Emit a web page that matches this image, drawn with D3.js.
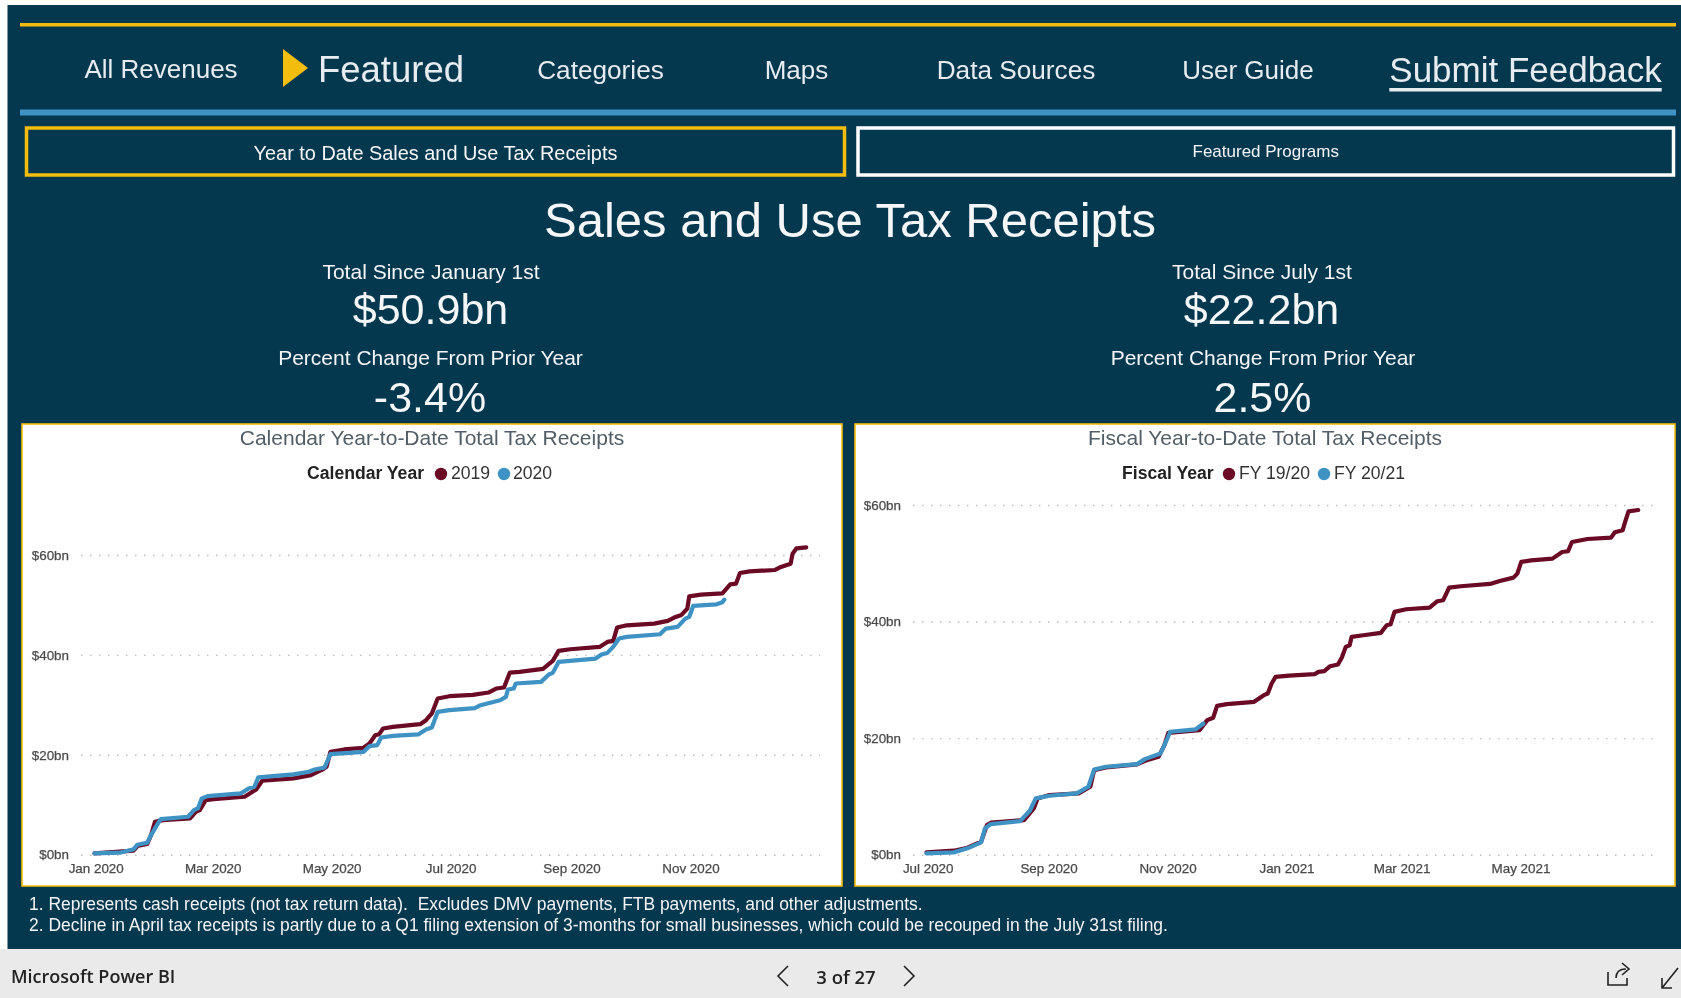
<!DOCTYPE html>
<html>
<head>
<meta charset="utf-8">
<script src="https://cdn.jsdelivr.net/npm/d3@7"></script>
<style>
  body { margin: 0; background: #fff; overflow: hidden; }
  svg { display: block; font-family: "Liberation Sans", Arial, sans-serif; filter: blur(0.35px); }
  .nav { fill: #e6ecef; text-anchor: middle; dominant-baseline: central; }
  .tick text { font-size: 13.4px; fill: #4a4a4a; font-weight: 400; stroke: #4a4a4a; stroke-width: .25px; }
</style>
</head>
<body>
<script>
// Global variables
const width = 1681;
const height = 998;
const navy = "#04384f";
const gold = "#f2bd0c";
const wine = "#6b0a25";
const blue = "#3f93c4";

// calendar chart, days since Jan 1st and $bn
const days2019 = [0,20,22,27,29,31,35,49,52,54,57,61,77,81,83,86,102,111,117,119,121,128,138,141,144,146,148,153,167,170,173,176,182,194,202,206,210,213,218,230,235,238,244,259,263,266,268,273,287,294,298,301,304,305,311,322,326,329,331,336,349,352,357,358,360,365];
const values2019 = [0.27,0.8,1.73,2.13,3.93,6.6,6.93,7.27,8.6,8.93,10.93,11.13,11.6,12.6,13.07,14.8,15.27,15.93,17.07,17.6,20.6,21.07,21.4,22.27,23.93,24.13,25.27,25.6,26.13,26.93,28.27,31.27,31.73,32,32.47,33.27,33.47,36.47,36.6,37.2,38.8,40.8,41.13,41.6,42.6,42.8,45.47,45.93,46.27,46.8,47.6,48,49.27,51.73,52.07,52.33,54.13,54.27,56.4,56.73,57,57.6,58.27,60.27,61.33,61.53];
const days2020 = [0,13,17,20,22,27,29,32,34,48,51,53,55,58,75,79,82,84,102,110,113,118,121,138,141,145,147,153,166,170,173,176,182,195,198,208,211,212,215,216,229,233,235,238,257,260,263,266,269,273,290,293,299,303,305,307,319,322,323];
const values2020 = [0.27,0.4,0.8,1.07,2,2.4,3.93,5.93,7.13,7.6,8.93,9.27,11.27,11.73,12.27,13.27,13.6,15.47,16.07,16.6,17.07,17.47,20.13,20.6,21.73,21.93,23.47,23.8,24.07,25.07,25.47,28.6,28.93,29.33,29.93,30.93,31.6,33.07,33.27,34.27,34.6,36.07,36.4,38.6,39.27,40.07,40.4,41.6,43.27,43.6,44.13,45.27,45.6,47.27,47.6,49.8,50.13,50.53,51.07];

// fiscal chart, days since Jul 1st and $bn
const daysFY1920 = [0,14,21,28,31,33,50,55,57,63,78,84,86,92,108,113,119,122,124,140,144,147,149,154,168,173,175,177,179,186,199,201,204,207,211,213,215,217,218,224,233,236,238,240,246,258,262,265,268,274,289,294,301,303,305,310,321,326,329,331,339,351,353,357,358,360,365];
const valuesFY1920 = [0.4,0.69,1.2,2.23,5.09,5.49,5.94,7.94,9.66,10.23,10.51,11.66,14.51,14.97,15.49,16.23,16.8,18.8,20.91,21.37,23.09,23.49,25.54,25.83,26.23,27.37,27.66,29.37,30.51,30.74,30.97,31.37,31.49,32.34,32.63,33.83,35.66,35.94,37.37,37.66,38.06,39.37,39.54,41.66,42.11,42.4,43.49,43.66,45.83,46.06,46.46,46.97,47.54,48.23,50.23,50.51,50.8,51.94,52.06,53.66,54.17,54.4,55.31,55.66,56.8,58.91,59.14];
const daysFY2021 = [0,14,21,28,30,33,48,53,56,63,77,83,86,92,108,112,120,122,125,138,142];
const valuesFY2021 = [0.23,0.4,1.09,2.11,4.51,5.26,5.77,7.54,9.66,10.11,10.51,11.66,14.63,15.09,15.54,16.4,17.37,18.8,21.09,21.49,22.51];

const yTicks = [0, 20, 40, 60];
const calendarTicks = ["2020-01-01","2020-03-01","2020-05-01","2020-07-01","2020-09-01","2020-11-01"];
const fiscalTicks = ["2020-07-01","2020-09-01","2020-11-01","2021-01-01","2021-03-01","2021-05-01"];

// top navigation
const navLabels = ["All Revenues","Featured","Categories","Maps","Data Sources","User Guide","Submit Feedback"];
const navCenters = [161,391,600.5,796.5,1016,1248,1525.5];
const navSizes = [26,36.5,26.2,26,26.2,26,35];

const footnotes = [
  "1. Represents cash receipts (not tax return data).  Excludes DMV payments, FTB payments, and other adjustments.",
  "2. Decline in April tax receipts is partly due to a Q1 filing extension of 3-months for small businesses, which could be recouped in the July 31st filing."
];

const parseDay = d3.utcParse("%Y-%m-%d");

const svg = d3.select("body").append("svg")
  .attr("width", width)
  .attr("height", height);

svg.append("rect").attr("x", 7.5).attr("y", 5).attr("width", width).attr("height", 944).attr("fill", navy);
svg.append("rect").attr("x", 0).attr("y", 949).attr("width", width).attr("height", 49).attr("fill", "#eaeaea");

// rules on top of the page
svg.append("rect").attr("x", 20).attr("y", 23).attr("width", 1656).attr("height", 3.5).attr("fill", gold);
svg.append("rect").attr("x", 20).attr("y", 109.5).attr("width", 1656).attr("height", 6).attr("fill", blue);

svg.selectAll("text.nav")
  .data(navLabels)
  .enter().append("text")
    .attr("class", "nav")
    .attr("x", (d, i) => navCenters[i])
    .attr("y", (d, i) => i == 0 ? 68.5 : 69.5)
    .attr("font-size", (d, i) => navSizes[i])
    .attr("fill", "#fff")
    .attr("text-decoration", d => d == "Submit Feedback" ? "underline" : null)
    .text(d => d);

svg.append("path")
  .attr("d", "M283,49 L308,68 L283,87 Z")
  .attr("fill", gold);

// page buttons
addButton(26.5, 128, 818, 47, gold, "Year to Date Sales and Use Tax Receipts", 19.9, 153);
addButton(858, 128, 815.5, 47, "#fff", "Featured Programs", 17, 151.5);

addCentered(850, 220, 49, "Sales and Use Tax Receipts");

addCentered(431, 271, 21, "Total Since January 1st");
addCentered(430.5, 309, 43, "$50.9bn");
addCentered(430.5, 357, 21, "Percent Change From Prior Year");
addCentered(430, 397, 43, "-3.4%");
addCentered(1262, 271, 21, "Total Since July 1st");
addCentered(1261.5, 309, 43, "$22.2bn");
addCentered(1263, 357, 21, "Percent Change From Prior Year");
addCentered(1262.5, 397, 43, "2.5%");

drawChart({
  left: 22, right: 842,
  title: "Calendar Year-to-Date Total Tax Receipts",
  titleX: 432,
  legendTitle: "Calendar Year",
  legendTitleX: 307,
  names: ["2019", "2020"],
  dotX: [441, 504],
  nameX: [451, 513],
  start: "2020-01-01",
  xRange: [94.5, 94.5 + 365 * 1.95],
  ticks: calendarTicks,
  yTop: 555,
  gridRange: [81, 820],
  series: [
    { days: days2019, values: values2019, color: wine },
    { days: days2020, values: values2020, color: blue }
  ]
});

drawChart({
  left: 855, right: 1675,
  title: "Fiscal Year-to-Date Total Tax Receipts",
  titleX: 1265,
  legendTitle: "Fiscal Year",
  legendTitleX: 1122,
  names: ["FY 19/20", "FY 20/21"],
  dotX: [1229, 1324],
  nameX: [1239, 1334],
  start: "2020-07-01",
  xRange: [926.5, 926.5 + 365 * 1.95],
  ticks: fiscalTicks,
  yTop: 505,
  gridRange: [913, 1653],
  series: [
    { days: daysFY1920, values: valuesFY1920, color: wine },
    { days: daysFY2021, values: valuesFY2021, color: blue }
  ]
});

// footnotes
svg.selectAll("text.footnote")
  .data(footnotes)
  .enter().append("text")
    .attr("class", "footnote")
    .attr("x", 29)
    .attr("y", (d, i) => 904 + i * 20.5)
    .attr("font-size", 17.45)
    .attr("fill", "#f2f4f5")
    .attr("dominant-baseline", "central")
    .style("white-space", "pre")
    .text(d => d);

// Power BI bar
svg.append("text").attr("x", 11).attr("y", 976)
  .attr("font-family", "'Open Sans'").attr("font-size", 18).attr("font-weight", 600)
  .attr("fill", "#222").attr("dominant-baseline", "central")
  .text("Microsoft Power BI");
svg.append("text").attr("x", 846).attr("y", 976)
  .attr("font-family", "'Open Sans'").attr("font-size", 18.5).attr("font-weight", 600)
  .attr("fill", "#222").attr("text-anchor", "middle").attr("dominant-baseline", "central")
  .text("3 of 27");

const barIcons = [
  "M788,966 L778,976 L788,986",
  "M904,966 L914,976 L904,986",
  "M1608,972 L1608,985 L1627,985 L1627,978 M1616,978 C1616,972 1620,969 1626,969 M1622,963 L1629,969 L1622,975",
  "M1662,988 L1678,968 M1662,978 L1662,988 L1672,988"
];
svg.selectAll("path.icon")
  .data(barIcons)
  .enter().append("path")
    .attr("class", "icon")
    .attr("d", d => d)
    .attr("fill", "none")
    .attr("stroke", "#222")
    .attr("stroke-width", 1.6);

function addCentered(x, y, size, label) {
  svg.append("text")
    .attr("x", x).attr("y", y)
    .attr("font-size", size)
    .attr("fill", "#f4f6f7")
    .attr("text-anchor", "middle")
    .attr("dominant-baseline", "central")
    .text(label);
}

function addButton(x, y, w, h, color, label, size, textY) {
  svg.append("rect")
    .attr("x", x).attr("y", y)
    .attr("width", w).attr("height", h)
    .attr("fill", "none")
    .attr("stroke", color)
    .attr("stroke-width", 3.5);
  addCentered(x + w / 2, textY, size, label);
}

function drawChart(c) {
  const panelTop = 424;
  const panelBottom = 886;
  const yZero = 854.7;

  svg.append("rect")
    .attr("x", c.left).attr("y", panelTop)
    .attr("width", c.right - c.left).attr("height", panelBottom - panelTop)
    .attr("fill", "#fff")
    .attr("stroke", gold)
    .attr("stroke-width", 1.6);

  svg.append("text")
    .attr("x", c.titleX).attr("y", 437)
    .attr("font-size", 21).attr("fill", "#525d66")
    .attr("text-anchor", "middle").attr("dominant-baseline", "central")
    .text(c.title);

  // legend
  svg.append("text")
    .attr("x", c.legendTitleX).attr("y", 473)
    .attr("font-size", 17.6).attr("font-weight", 700).attr("fill", "#222")
    .attr("dominant-baseline", "central")
    .text(c.legendTitle);
  c.names.forEach((name, i) => {
    svg.append("circle")
      .attr("cx", c.dotX[i]).attr("cy", 474).attr("r", 6.2)
      .attr("fill", c.series[i].color);
    svg.append("text")
      .attr("x", c.nameX[i]).attr("y", 473)
      .attr("font-size", 17.6).attr("fill", "#333")
      .attr("dominant-baseline", "central")
      .text(name);
  });

  const start = parseDay(c.start);
  const x = d3.scaleUtc()
    .domain([start, d3.utcDay.offset(start, 365)])
    .range(c.xRange);
  const y = d3.scaleLinear()
    .domain([0, 60])
    .range([yZero, c.yTop]);

  const yAxis = svg.append("g")
    .attr("transform", `translate(${c.gridRange[0]},0)`)
    .call(d3.axisLeft(y)
      .tickValues(yTicks)
      .tickFormat(d => `$${d}bn`)
      .tickSize(-(c.gridRange[1] - c.gridRange[0]))
      .tickPadding(12));
  yAxis.select(".domain").remove();
  yAxis.selectAll("line")
    .attr("stroke", "#bdbdbd")
    .attr("stroke-width", 1.4)
    .attr("stroke-dasharray", "1.5 7.5");

  const xAxis = svg.append("g")
    .attr("transform", `translate(1.2,${yZero})`)
    .call(d3.axisBottom(x)
      .tickValues(c.ticks.map(parseDay))
      .tickFormat(d3.utcFormat("%b %Y"))
      .tickSize(0)
      .tickPadding(8.5));
  xAxis.select(".domain").remove();

  const line = d3.line()
    .x(d => x(d3.utcDay.offset(start, d.day)))
    .y(d => y(d.value));

  c.series.forEach(s => {
    svg.append("path")
      .datum(s.days.map((day, i) => ({ day: day, value: s.values[i] })))
      .attr("d", line)
      .attr("fill", "none")
      .attr("stroke", s.color)
      .attr("stroke-width", 4.2)
      .attr("stroke-linejoin", "round")
      .attr("stroke-linecap", "round");
  });
}
</script>
</body>
</html>
